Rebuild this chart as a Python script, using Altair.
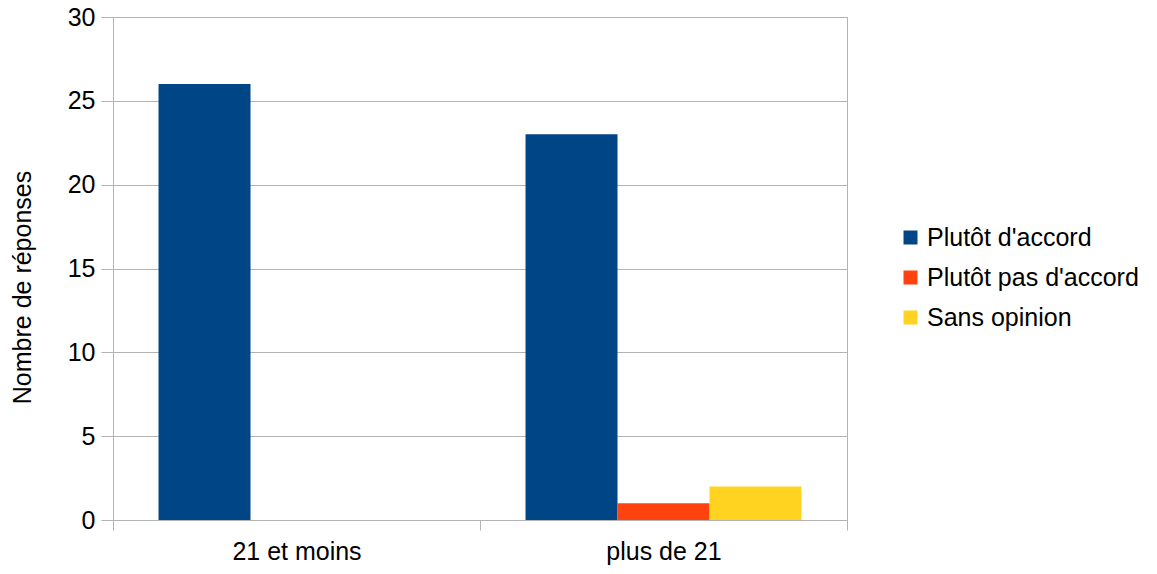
import altair as alt
import pandas as pd

categories = ["21 et moins", "plus de 21"]
series = ["Plutôt d'accord", "Plutôt pas d'accord", "Sans opinion"]
values_accord = [26, 23]
values_pas_accord = [0, 1]
values_sans_opinion = [0, 2]
colors = ["#004586", "#ff420e", "#ffd320"]

rows = []
for i, c in enumerate(categories):
    for s, vals in zip(series, [values_accord, values_pas_accord, values_sans_opinion]):
        rows.append({"cat": c, "serie": s, "val": vals[i]})
df = pd.DataFrame(rows)

FONT = "Liberation Sans"
GRAY = "#b3b3b3"
FS = 25

chart = alt.Chart(df).mark_bar().encode(
    x=alt.X("cat:N", sort=categories, title=None,
            scale=alt.Scale(paddingInner=0, paddingOuter=0),
            axis=alt.Axis(labelAngle=0, tickBand="extent", tickSize=10, labelPadding=9,
                          domainColor=GRAY, tickColor=GRAY, grid=False)),
    xOffset=alt.XOffset("serie:N", sort=series,
                        scale=alt.Scale(paddingInner=0, paddingOuter=0.495)),
    y=alt.Y("val:Q", title="Nombre de réponses",
            scale=alt.Scale(domain=[0, 30]),
            axis=alt.Axis(values=[0, 5, 10, 15, 20, 25, 30], tickSize=12, labelPadding=6,
                          domainColor=GRAY, tickColor=GRAY, gridColor=GRAY,
                          titleAngle=-90, titleX=-91, titleY=270,
                          titleAlign="center", titleBaseline="middle")),
    color=alt.Color("serie:N", sort=series, title=None,
                    scale=alt.Scale(domain=series, range=colors),
                    legend=alt.Legend(orient="none", legendX=785, legendY=208,
                                      symbolType="square", symbolSize=196,
                                      symbolStrokeWidth=0, rowPadding=14,
                                      labelOffset=4, labelLimit=400)),
).properties(
    width=734, height=503,
    autosize=alt.AutoSizeParams(type="none"),
    padding={"left": 105, "top": 9, "right": 302, "bottom": 46},
).configure_view(
    stroke=GRAY, strokeWidth=1
).configure_axis(
    labelFont=FONT, titleFont=FONT, labelFontSize=FS, titleFontSize=FS,
    labelColor="black", titleColor="black", titleFontWeight="normal",
).configure_legend(
    labelFont=FONT, labelFontSize=FS, labelColor="black",
)

chart.save("out.html", embed_options={"renderer": "svg", "actions": False})
